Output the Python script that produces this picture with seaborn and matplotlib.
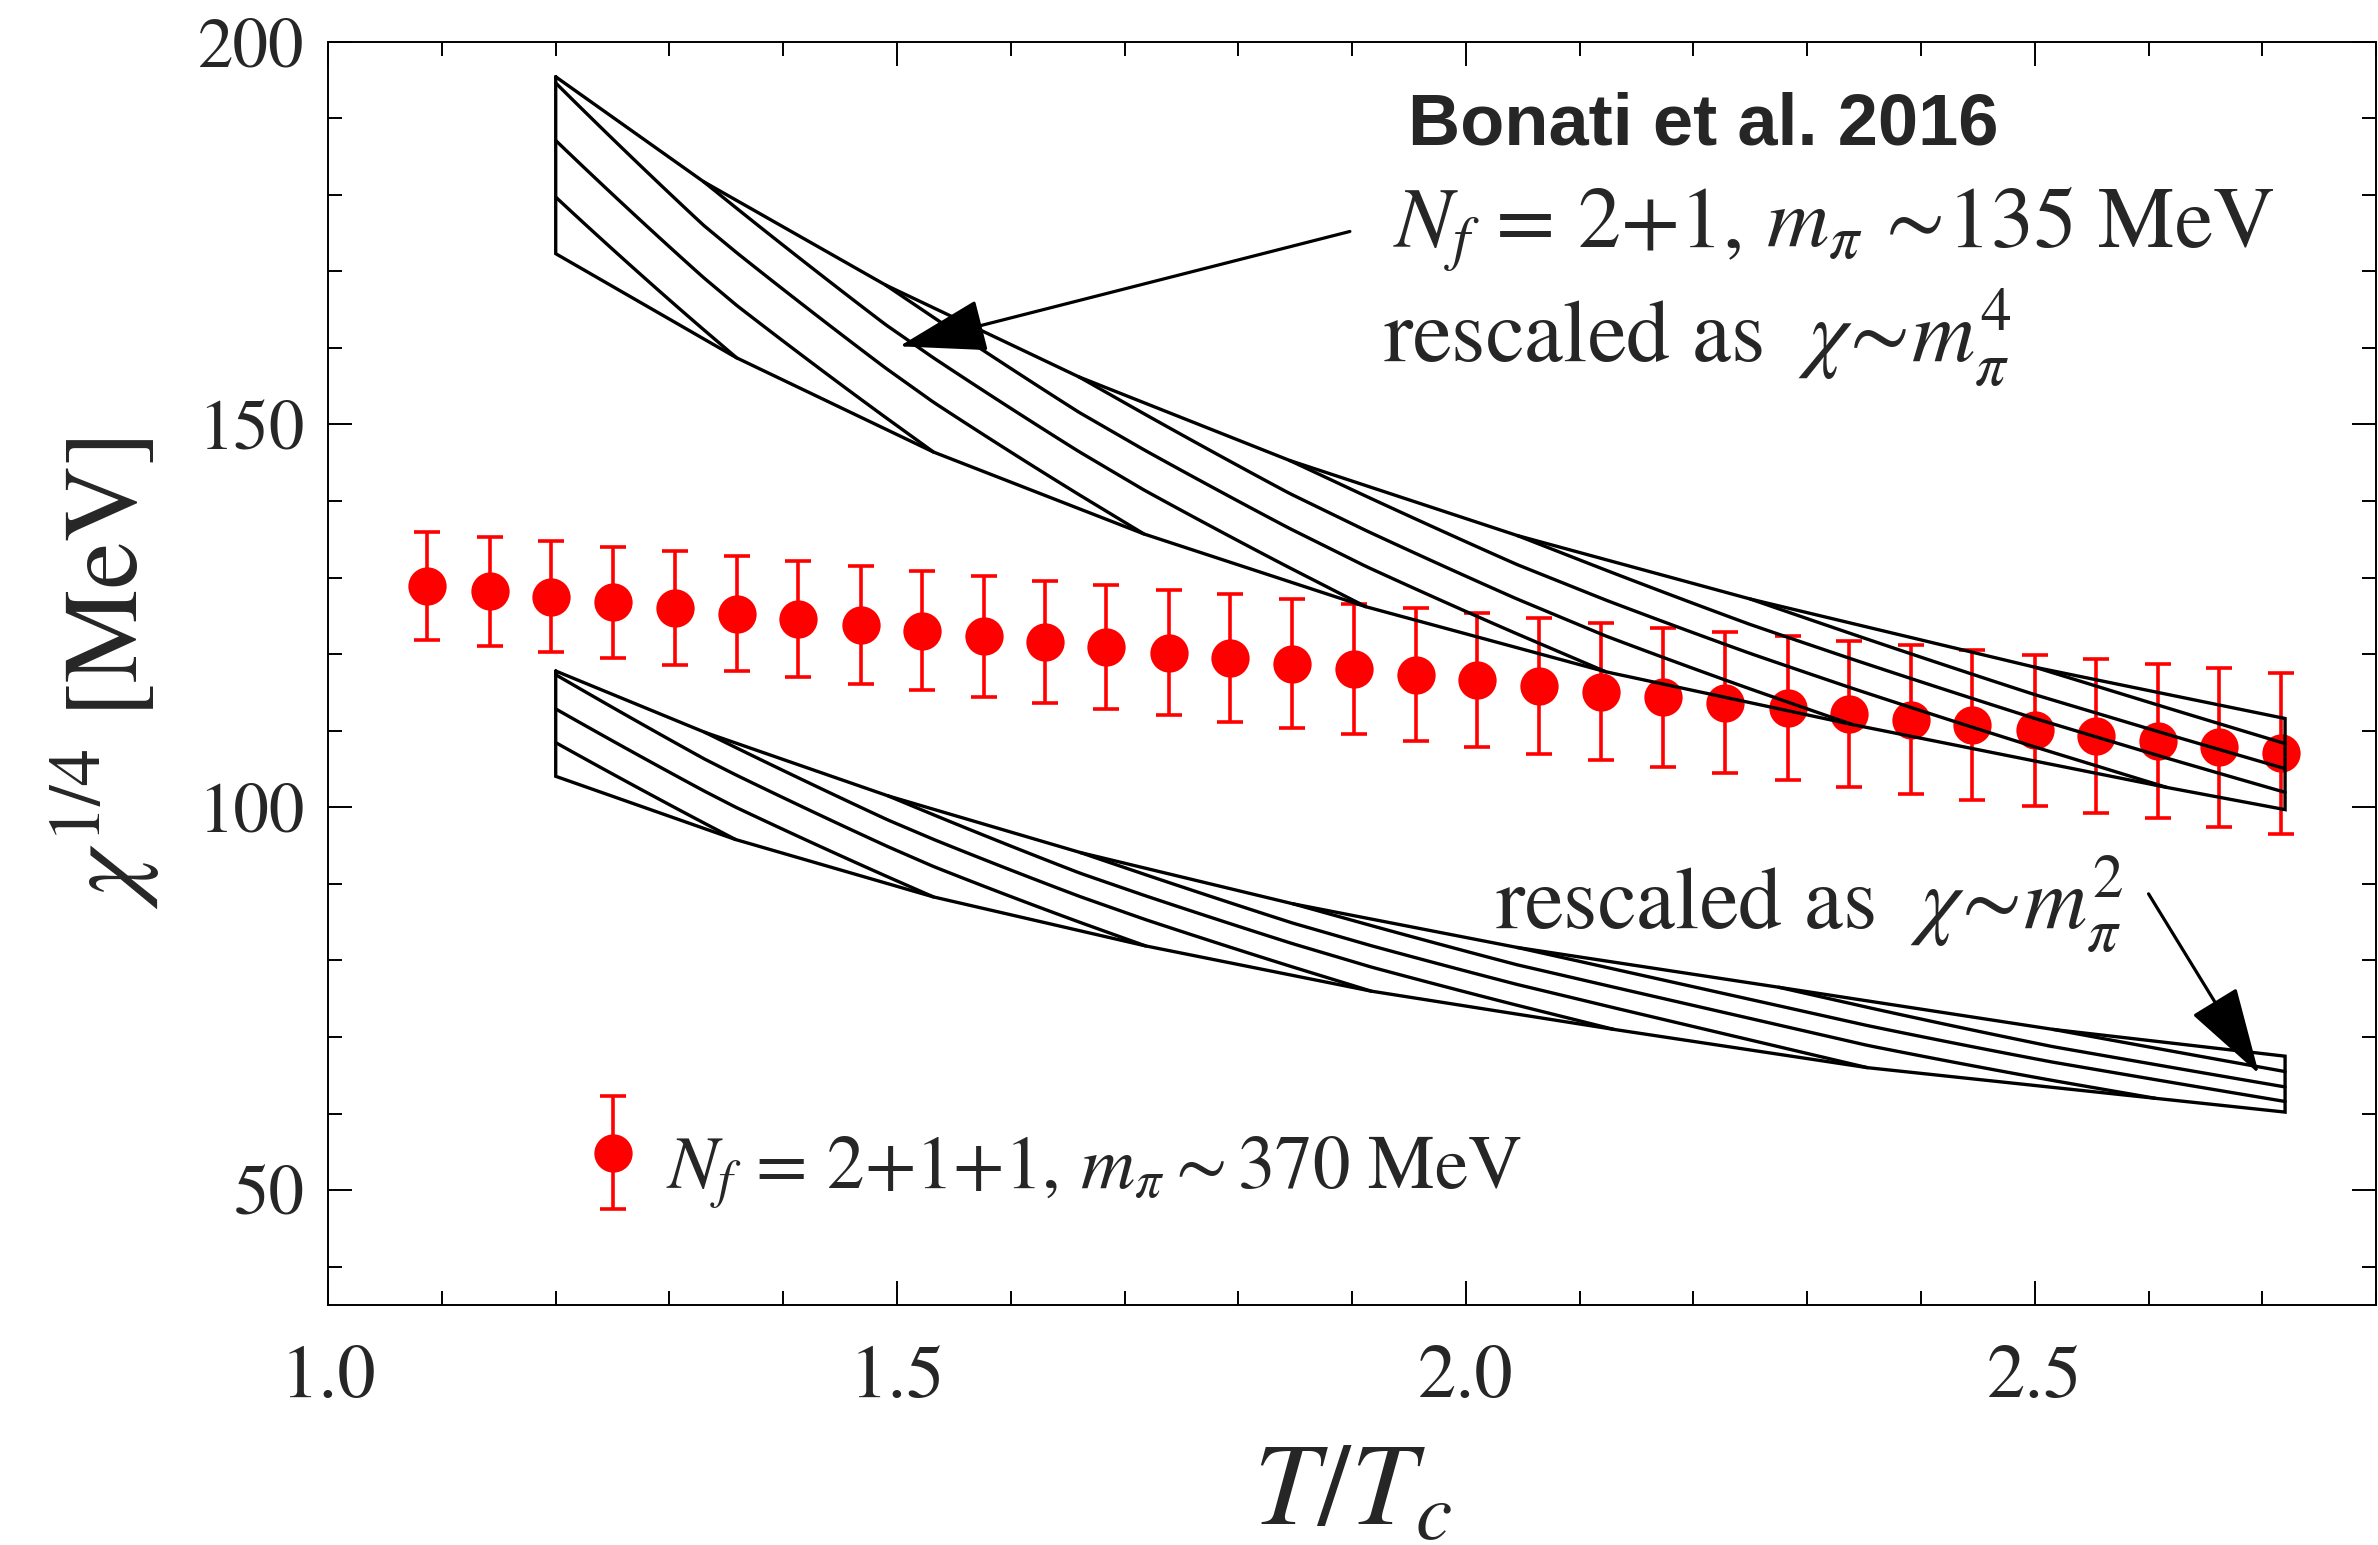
import numpy as np
import pandas as pd
import matplotlib
matplotlib.use("Agg")
import matplotlib.pyplot as plt
import seaborn as sns
from matplotlib.ticker import MultipleLocator, FormatStrFormatter

# ---------------- data ----------------
t_over_tc = [1.087, 1.142, 1.196, 1.250, 1.305, 1.359, 1.413, 1.468, 1.522, 1.576,
             1.630, 1.684, 1.739, 1.793, 1.847, 1.902, 1.956, 2.010, 2.064, 2.119,
             2.173, 2.228, 2.283, 2.337, 2.391, 2.445, 2.500, 2.554, 2.608, 2.662, 2.716]
chi_quarter = [128.95, 128.21, 127.50, 126.76, 126.01, 125.30, 124.56, 123.80, 123.06, 122.35,
               121.63, 120.95, 120.20, 119.47, 118.73, 118.05, 117.32, 116.59, 115.85, 115.11,
               114.36, 113.67, 112.98, 112.18, 111.44, 110.78, 110.08, 109.28, 108.68, 107.83, 107.08]
chi_err = [7.05, 7.15, 7.23, 7.30, 7.40, 7.48, 7.60, 7.68, 7.76, 7.88,
           7.96, 8.13, 8.20, 8.36, 8.43, 8.50, 8.67, 8.76, 8.91, 8.95,
           9.10, 9.23, 9.36, 9.56, 9.70, 9.76, 9.85, 10.05, 10.10, 10.35, 10.50]

# Bonati et al. band rescaled as chi ~ m_pi^4 (upper band)
m4_top_x = [1.20, 1.33, 1.49, 1.66, 1.845, 2.045, 2.25, 2.50, 2.72]
m4_top_y = [195.4, 181.7, 168.2, 156.2, 145.3, 135.5, 127.2, 118.3, 111.6]
m4_bot_x = [1.20, 1.359, 1.532, 1.717, 1.912, 2.123, 2.34, 2.616, 2.72]
m4_bot_y = [172.3, 158.7, 146.4, 135.7, 126.2, 117.7, 110.8, 102.6, 99.7]

# Bonati et al. band rescaled as chi ~ m_pi^2 (lower band)
m2_top_x = [1.20, 1.331, 1.492, 1.661, 1.848, 2.045, 2.275, 2.516, 2.72]
m2_top_y = [117.8, 109.8, 101.5, 94.1, 87.4, 81.7, 76.5, 71.0, 67.5]
m2_bot_x = [1.20, 1.358, 1.532, 1.7185, 1.9166, 2.13, 2.353, 2.606, 2.72]
m2_bot_y = [104.05, 95.8, 88.3, 81.9, 76.0, 71.0, 66.0, 62.0, 60.2]

# where the hatch strokes meet the left / right ends of a band (fraction of band width)
hatch_left_frac = [0.32, 0.64, 0.965]
hatch_right_frac = [0.19, 0.45, 0.725]

legend_err = 7.4

# ---------------- style ----------------
sns.set_theme(style="ticks")
plt.rcParams["font.family"] = ["STIXGeneral", "DejaVu Serif"]
plt.rcParams["mathtext.fontset"] = "stix"
plt.rcParams["axes.linewidth"] = 1.4
plt.rcParams["axes.edgecolor"] = "black"

RED = "#ff0000"
LW = 2.4

fig = plt.figure(figsize=(23.78, 15.45), dpi=100)
ax = fig.add_axes([0.138, 0.1553, 0.8612, 0.8178])

# ---------------- red data points ----------------
df = pd.DataFrame({"T": t_over_tc, "chi": chi_quarter, "err": chi_err})
ax.errorbar(df["T"], df["chi"], yerr=df["err"], fmt="none", ecolor=RED,
            elinewidth=2.6, capsize=9.5, capthick=2.6, zorder=2)
sns.scatterplot(data=df, x="T", y="chi", ax=ax, color=RED, s=760,
                linewidth=0, marker="o", zorder=2.5, legend=False)


# ---------------- hatched bands ----------------
def draw_band(ax, tx, ty, bx, by):
    tx, ty, bx, by = map(np.asarray, (tx, ty, bx, by))
    ox = np.concatenate([tx, bx[::-1], tx[:1]])
    oy = np.concatenate([ty, by[::-1], ty[:1]])
    ax.plot(ox, oy, color="black", lw=LW, solid_joinstyle="miter", zorder=3)
    x0, x1 = tx[0], tx[-1]
    starts = [(x0, f) for f in hatch_left_frac] + [(x, 1.0) for x in tx[1:-1]]
    ends = [(x, 0.0) for x in bx[1:-1]] + [(x1, f) for f in hatch_right_frac]
    s = np.linspace(0.0, 1.0, 120)
    for (xs, vs), (xe, ve) in zip(starts, ends):
        xx = xs + s * (xe - xs)
        vv = vs + s * (ve - vs)
        top = np.interp(xx, tx, ty)
        bot = np.interp(xx, bx, by)
        ax.plot(xx, bot + vv * (top - bot), color="black", lw=LW, zorder=3)


draw_band(ax, m4_top_x, m4_top_y, m4_bot_x, m4_bot_y)
draw_band(ax, m2_top_x, m2_top_y, m2_bot_x, m2_bot_y)

# ---------------- axes ----------------
ax.set_xlim(1.0, 2.8)
ax.set_ylim(35, 200)
ax.xaxis.set_major_locator(MultipleLocator(0.5))
ax.xaxis.set_minor_locator(MultipleLocator(0.1))
ax.yaxis.set_major_locator(MultipleLocator(50))
ax.yaxis.set_minor_locator(MultipleLocator(10))
ax.xaxis.set_major_formatter(FormatStrFormatter("%.1f"))
ax.yaxis.set_major_formatter(FormatStrFormatter("%d"))
ax.tick_params(which="both", direction="in", top=True, right=True,
               width=1.4, color="black")
ax.tick_params(which="major", length=17)
ax.tick_params(which="minor", length=10)
ax.tick_params(axis="x", which="major", pad=29, labelsize=55)
ax.tick_params(axis="y", which="major", pad=17, labelsize=51)
for sp in ax.spines.values():
    sp.set_visible(True)
    sp.set_linewidth(1.4)

ax.set_xlabel(r"$T/T_c$", fontsize=84)
ax.xaxis.label.set_va("baseline")
ax.xaxis.set_label_coords(0.5, -0.1733)
ax.set_ylabel(r"$\chi^{1/4}$ [MeV]", fontsize=76, labelpad=26)

# ---------------- annotations ----------------
ax.text(1.949, 186.6, "Bonati et al. 2016", fontsize=52, fontweight="bold",
        family=["Liberation Sans", "DejaVu Sans"], va="baseline", ha="left")
ax.text(1.936, 173.1, r"$N_f\,=\,2{+}1,\, m_\pi\,\sim\!$135 MeV", fontsize=62,
        va="baseline", ha="left")
ax.text(1.927, 158.2, r"rescaled as $\ \chi\!\sim\! m_\pi^4$", fontsize=63,
        va="baseline", ha="left")
ax.text(2.026, 84.1, r"rescaled as $\ \chi\!\sim\! m_\pi^2$", fontsize=63,
        va="baseline", ha="left")

arrow_kw = dict(arrowstyle="-|>,head_length=0.93,head_width=0.28", color="black",
                lw=2.3, shrinkA=0, shrinkB=0, mutation_scale=60)
ax.annotate("", xy=(1.502, 160.2), xytext=(1.898, 175.2), arrowprops=arrow_kw)
ax.annotate("", xy=(2.697, 65.2), xytext=(2.600, 88.7), arrowprops=arrow_kw)

# ---------------- legend (single entry) ----------------
ax.errorbar([1.2505], [54.9], yerr=[legend_err], fmt="none", ecolor=RED,
            elinewidth=2.6, capsize=9.5, capthick=2.6, zorder=2)
ax.scatter([1.2505], [54.9], s=760, color=RED, linewidth=0, zorder=2.5)
ax.text(1.297, 50.2, r"$N_f\,=\,2{+}1{+}1,\, m_\pi \sim 370\ \mathrm{MeV}$", fontsize=54,
        va="baseline", ha="left")

fig.savefig("out.png", dpi=100)
